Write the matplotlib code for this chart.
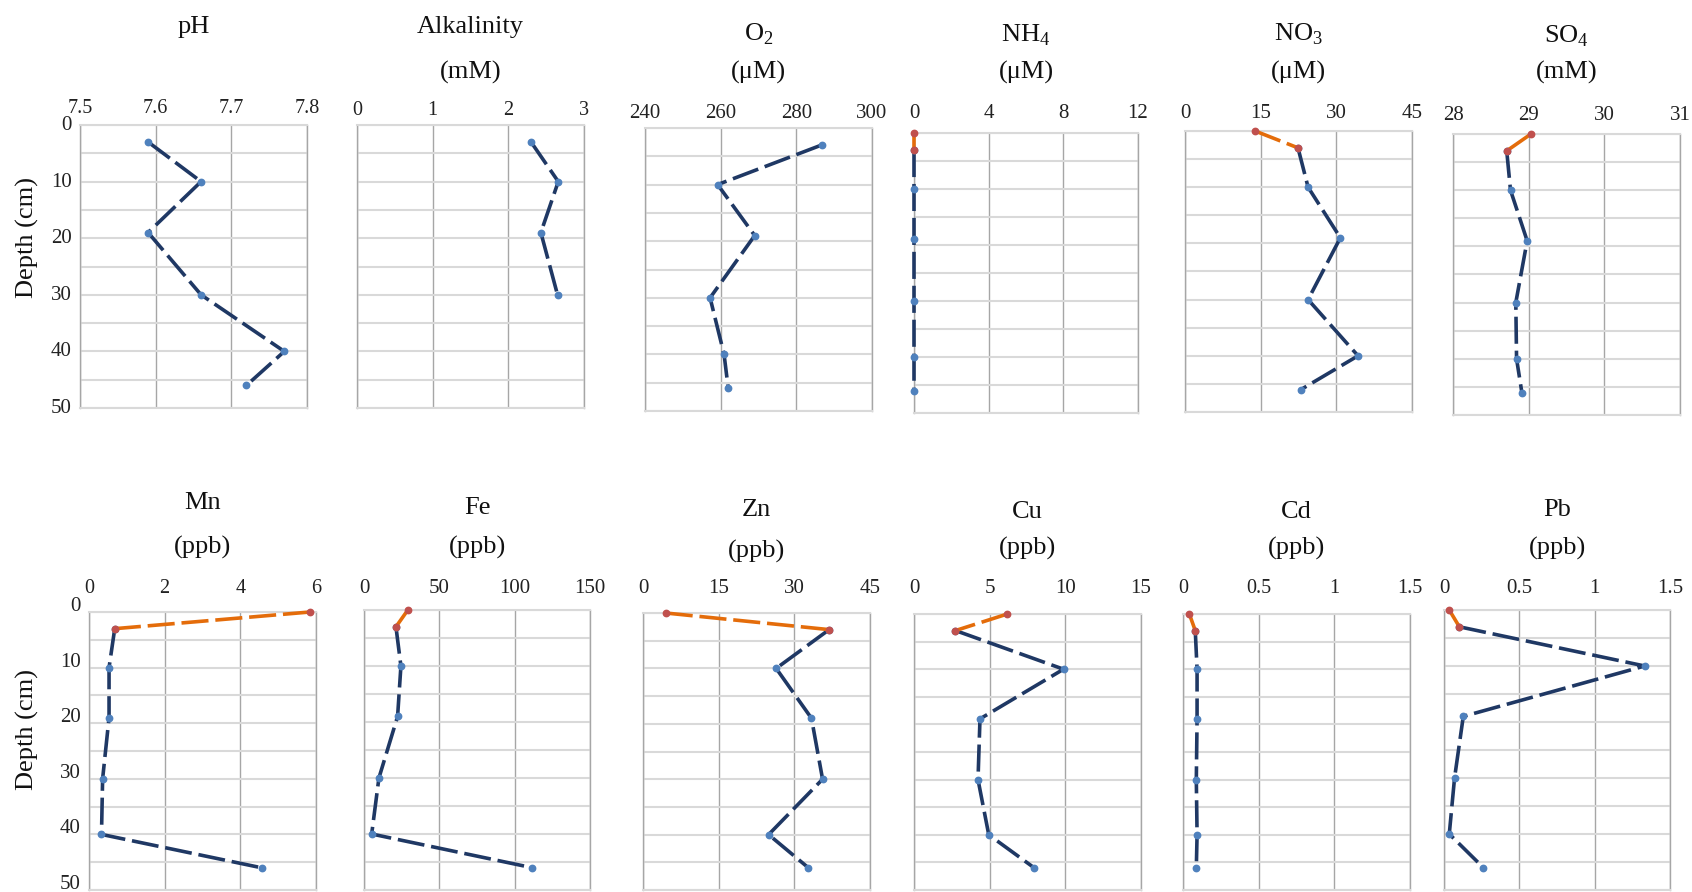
import matplotlib
matplotlib.use("Agg")
import matplotlib.pyplot as plt
import matplotlib.transforms as mtransforms
from matplotlib.ticker import MultipleLocator, FuncFormatter

plt.rcParams['font.family'] = ['Liberation Serif', 'DejaVu Serif']
plt.rcParams['mathtext.fontset'] = 'custom'
plt.rcParams['mathtext.rm'] = 'Liberation Serif'

# sampling depths (cm)
depth = [3, 10, 19, 30, 40, 46]
surface_depth = [0, 3]

# measured profiles
ph = [7.59, 7.66, 7.59, 7.66, 7.77, 7.72]
alk = [2.30, 2.66, 2.43, 2.65]
o2 = [286.7, 259.2, 269.0, 257.2, 260.9, 262.0]
nh4 = [0, 0, 0, 0, 0, 0]
no3 = [22.4, 24.4, 30.8, 24.4, 34.3, 23.0]
so4 = [28.71, 28.76, 28.98, 28.83, 28.84, 28.91]
mn = [0.68, 0.53, 0.53, 0.36, 0.33, 4.56]
fe = [21.2, 24.5, 22.3, 9.9, 5.1, 111.3]
zn = [36.9, 26.4, 33.4, 35.6, 24.9, 32.8]
cu = [2.74, 9.88, 4.36, 4.23, 4.94, 7.95]
cd = [0.081, 0.093, 0.093, 0.088, 0.093, 0.088]
pb = [0.102, 1.332, 0.128, 0.070, 0.035, 0.261]

# surface water values (orange segment)
nh4_surf = 0
no3_surf = 13.9
so4_surf = 29.03
mn_surf = 5.84
fe_surf = 29.1
zn_surf = 4.5
cu_surf = 6.17
cd_surf = 0.042
pb_surf = 0.035

names = ['pH', 'Alkalinity', 'O$_\\mathregular{2}$', 'NH$_\\mathregular{4}$',
         'NO$_\\mathregular{3}$', 'SO$_\\mathregular{4}$',
         'Mn', 'Fe', 'Zn', 'Cu', 'Cd', 'Pb']
units = ['', '(mM)', '(\u03bcM)', '(\u03bcM)', '(\u03bcM)', '(mM)',
         '(ppb)', '(ppb)', '(ppb)', '(ppb)', '(ppb)', '(ppb)']
series = [ph, alk, o2, nh4, no3, so4, mn, fe, zn, cu, cd, pb]
surf = [None, None, None, nh4_surf, no3_surf, so4_surf,
        mn_surf, fe_surf, zn_surf, cu_surf, cd_surf, pb_surf]
xlims = [(7.5, 7.8), (0, 3), (240, 300), (0, 12), (0, 45), (28, 31),
         (0, 6), (0, 150), (0, 45), (0, 15), (0, 1.5), (0, 1.5)]
xsteps = [0.1, 1, 20, 4, 15, 1, 2, 50, 15, 5, 0.5, 0.5]

# layout, in pixels: panel box (left, right, top, bottom), title rows, tick labels
W, H = 1692, 892
boxes = [(80, 307, 125, 408), (357, 584, 125, 408), (645, 872, 128, 411),
         (914, 1138, 133, 413), (1185, 1412, 131, 412), (1453, 1680, 134, 415),
         (89, 316, 612, 890), (364, 590, 610, 890), (643, 870, 613, 890),
         (914, 1141, 614, 890), (1183, 1410, 614, 890), (1444, 1670, 610, 890)]
title1_y = [27, 27, 34, 35, 34, 36, 503, 508, 510, 512, 512, 510]
title2_y = [72, 72, 72, 72, 72, 72, 547, 547, 551, 548, 548, 548]
ticklab_y = [107, 109, 112, 112, 112, 114, 587, 587, 587, 587, 587, 587]
tick_fs = [14.5, 14.5, 15, 15, 15, 15, 14.5, 15, 15, 15, 14.5, 15]
ylab_shift = [2, 8]   # px upward for depth labels, top row / bottom row

NAVY = '#1f3864'
BLUE = '#4f81bd'
ORANGE = '#e46c0a'
RED = '#c0504d'
VGRID = '#a6a6a6'
HGRID = '#d9d9d9'

fig = plt.figure(figsize=(W / 100, H / 100), dpi=100)

for i in range(12):
    l, r, t, b = boxes[i]
    ax = fig.add_axes([l / W, 1 - b / H, (r - l) / W, (b - t) / H])
    vals = series[i]
    d = depth[:len(vals)]
    ax.plot(vals, d, color=NAVY, lw=2.6, dashes=(7.5, 1.9), zorder=3,
            clip_on=False)
    ax.plot(vals, d, 'o', color=BLUE, ms=4.6, zorder=4, clip_on=False)
    if surf[i] is not None:
        sv = [surf[i], vals[0]]
        ax.plot(sv, surface_depth, color=ORANGE, lw=2.6, dashes=(7.5, 1.9),
                zorder=5, clip_on=False)
        ax.plot(sv, surface_depth, 'o', color=RED, ms=4.6, zorder=6,
                clip_on=False)

    ax.set_xlim(*xlims[i])
    ax.set_ylim(50, 0)
    ax.xaxis.set_major_locator(MultipleLocator(xsteps[i]))
    ax.xaxis.set_major_formatter(FuncFormatter(lambda v, p: '%g' % round(v, 3)))
    ax.yaxis.set_major_locator(MultipleLocator(10))
    ax.yaxis.set_minor_locator(MultipleLocator(5))
    ax.xaxis.tick_top()
    ax.grid(axis='x', color=VGRID, lw=1.0)
    ax.grid(axis='y', which='both', color=HGRID, lw=1.5)
    ax.set_axisbelow(True)
    for s in ['left', 'right']:
        ax.spines[s].set_color(VGRID)
        ax.spines[s].set_linewidth(1.0)
    for s in ['top', 'bottom']:
        ax.spines[s].set_color(HGRID)
        ax.spines[s].set_linewidth(1.5)
    em = tick_fs[i] * 100 / 72
    pad = (t - ticklab_y[i] - 0.55 * em) * 0.72
    ax.tick_params(axis='x', length=0, pad=pad, labelsize=tick_fs[i],
                   colors='#222222')
    ax.tick_params(axis='y', which='both', length=0, labelsize=15,
                   colors='#222222', pad=6)
    if i % 6 != 0:
        ax.set_yticklabels([])
    else:
        # depth labels sit a little above their gridlines in the original
        up = ylab_shift[i // 6] / 100
        shift = mtransforms.ScaledTranslation(0, up, fig.dpi_scale_trans)
        for lab in ax.get_yticklabels():
            lab.set_transform(lab.get_transform() + shift)

    cx = (l + r) / 2 / W
    fig.text(cx, 1 - title1_y[i] / H, names[i], ha='center', va='center',
             fontsize=19, color='#111111')
    if units[i]:
        fig.text(cx, 1 - title2_y[i] / H, units[i], ha='center', va='center',
                 fontsize=19, color='#111111')

fig.text(27 / W, 1 - 238 / H, 'Depth (cm)', rotation=90, ha='center',
         va='center', fontsize=19, color='#111111')
fig.text(27 / W, 1 - 729 / H, 'Depth (cm)', rotation=90, ha='center',
         va='center', fontsize=19, color='#111111')

fig.savefig('out.png', dpi=100)
